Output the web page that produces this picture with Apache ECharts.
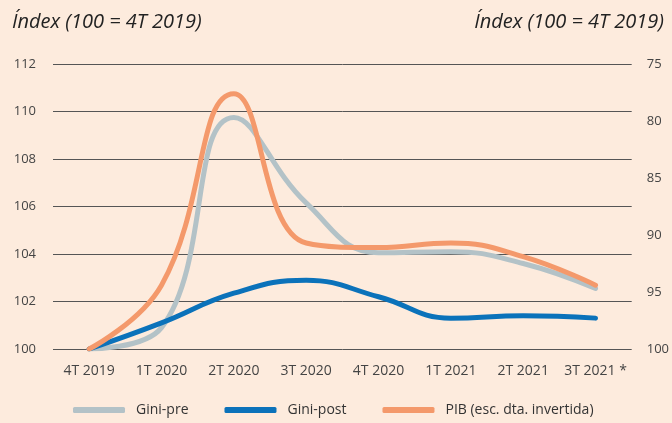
<!DOCTYPE html>
<html>
<head>
<meta charset="utf-8">
<script src="https://cdn.jsdelivr.net/npm/echarts@6/dist/echarts.min.js"></script>
<style>
  html, body { margin: 0; padding: 0; background: #fdebdd; }
  #chart { width: 672px; height: 423px; }
</style>
</head>
<body>
<div id="chart"></div>
<script>
// trimestres
var categories = ['4T 2019', '1T 2020', '2T 2020', '3T 2020', '4T 2020', '1T 2021', '2T 2021', '3T 2021 *'];

// índexs (100 = 4T 2019)
var giniPre  = [100, 100.9, 109.75, 106.15, 104.05, 104.1, 103.6, 102.55];
var giniPost = [100, 101.1, 102.35, 102.9, 102.2, 101.3, 101.4, 101.3];
var pib      = [100, 94.4, 77.6, 90.7, 91.1, 90.7, 91.9, 94.4];   // eix dret, invertit

var leftTicks = { min: 100, max: 112, interval: 2 };
var rightTicks = { min: 75, max: 100, interval: 5 };

var myChart = echarts.init(document.getElementById('chart'));

var font = '"Open Sans", "Noto Sans", sans-serif';

var option = {
    backgroundColor: '#fdebdd',
    textStyle: { fontFamily: font },
    animation: false,
    title: [
        {
            text: 'Índex (100 = 4T 2019)',
            left: 7, top: 7,
            textStyle: { fontFamily: font, fontStyle: 'italic', fontWeight: 'normal', fontSize: 20, color: '#222' }
        },
        {
            text: 'Índex (100 = 4T 2019)',
            right: 3, top: 7,
            textStyle: { fontFamily: font, fontStyle: 'italic', fontWeight: 'normal', fontSize: 20, color: '#222' }
        }
    ],
    grid: { left: 53, right: 37, top: 64, bottom: 74 },
    legend: {
        bottom: 1,
        left: 68,
        itemWidth: 52,
        itemHeight: 6,
        itemGap: 36,
        icon: 'roundRect',
        textStyle: { fontSize: 14, color: '#333', padding: [0, 0, 0, 6] },
        data: ['Gini-pre', 'Gini-post', 'PIB (esc. dta. invertida)']
    },
    xAxis: {
        type: 'category',
        data: categories,
        axisLine: { show: false },
        axisTick: { show: false },
        axisLabel: { fontSize: 14, color: '#444', margin: 15, interval: 0 }
    },
    yAxis: [
        {
            type: 'value',
            min: leftTicks.min, max: leftTicks.max, interval: leftTicks.interval,
            axisLine: { show: false },
            axisTick: { show: false },
            axisLabel: { fontSize: 13, color: '#444', margin: 17 },
            splitLine: { lineStyle: { color: '#555', width: 1 } }
        },
        {
            type: 'value',
            inverse: true,
            min: rightTicks.min, max: rightTicks.max, interval: rightTicks.interval,
            axisLine: { show: false },
            axisTick: { show: false },
            axisLabel: { fontSize: 13, color: '#444', margin: 15 },
            splitLine: { show: false }
        }
    ],
    series: [
        {
            name: 'Gini-pre',
            type: 'line',
            data: giniPre,
            smooth: 0.45,
            symbol: 'none',
            itemStyle: { color: '#b3c2c7' },
            lineStyle: { width: 5, color: '#b3c2c7', cap: 'round' }
        },
        {
            name: 'Gini-post',
            type: 'line',
            data: giniPost,
            smooth: 0.45,
            symbol: 'none',
            itemStyle: { color: '#0b72ba' },
            lineStyle: { width: 5, color: '#0b72ba', cap: 'round' }
        },
        {
            name: 'PIB (esc. dta. invertida)',
            type: 'line',
            yAxisIndex: 1,
            data: pib,
            smooth: 0.45,
            symbol: 'none',
            itemStyle: { color: '#f4996b' },
            lineStyle: { width: 5, color: '#f4996b', cap: 'round' }
        }
    ]
};

myChart.setOption(option);
</script>
</body>
</html>
